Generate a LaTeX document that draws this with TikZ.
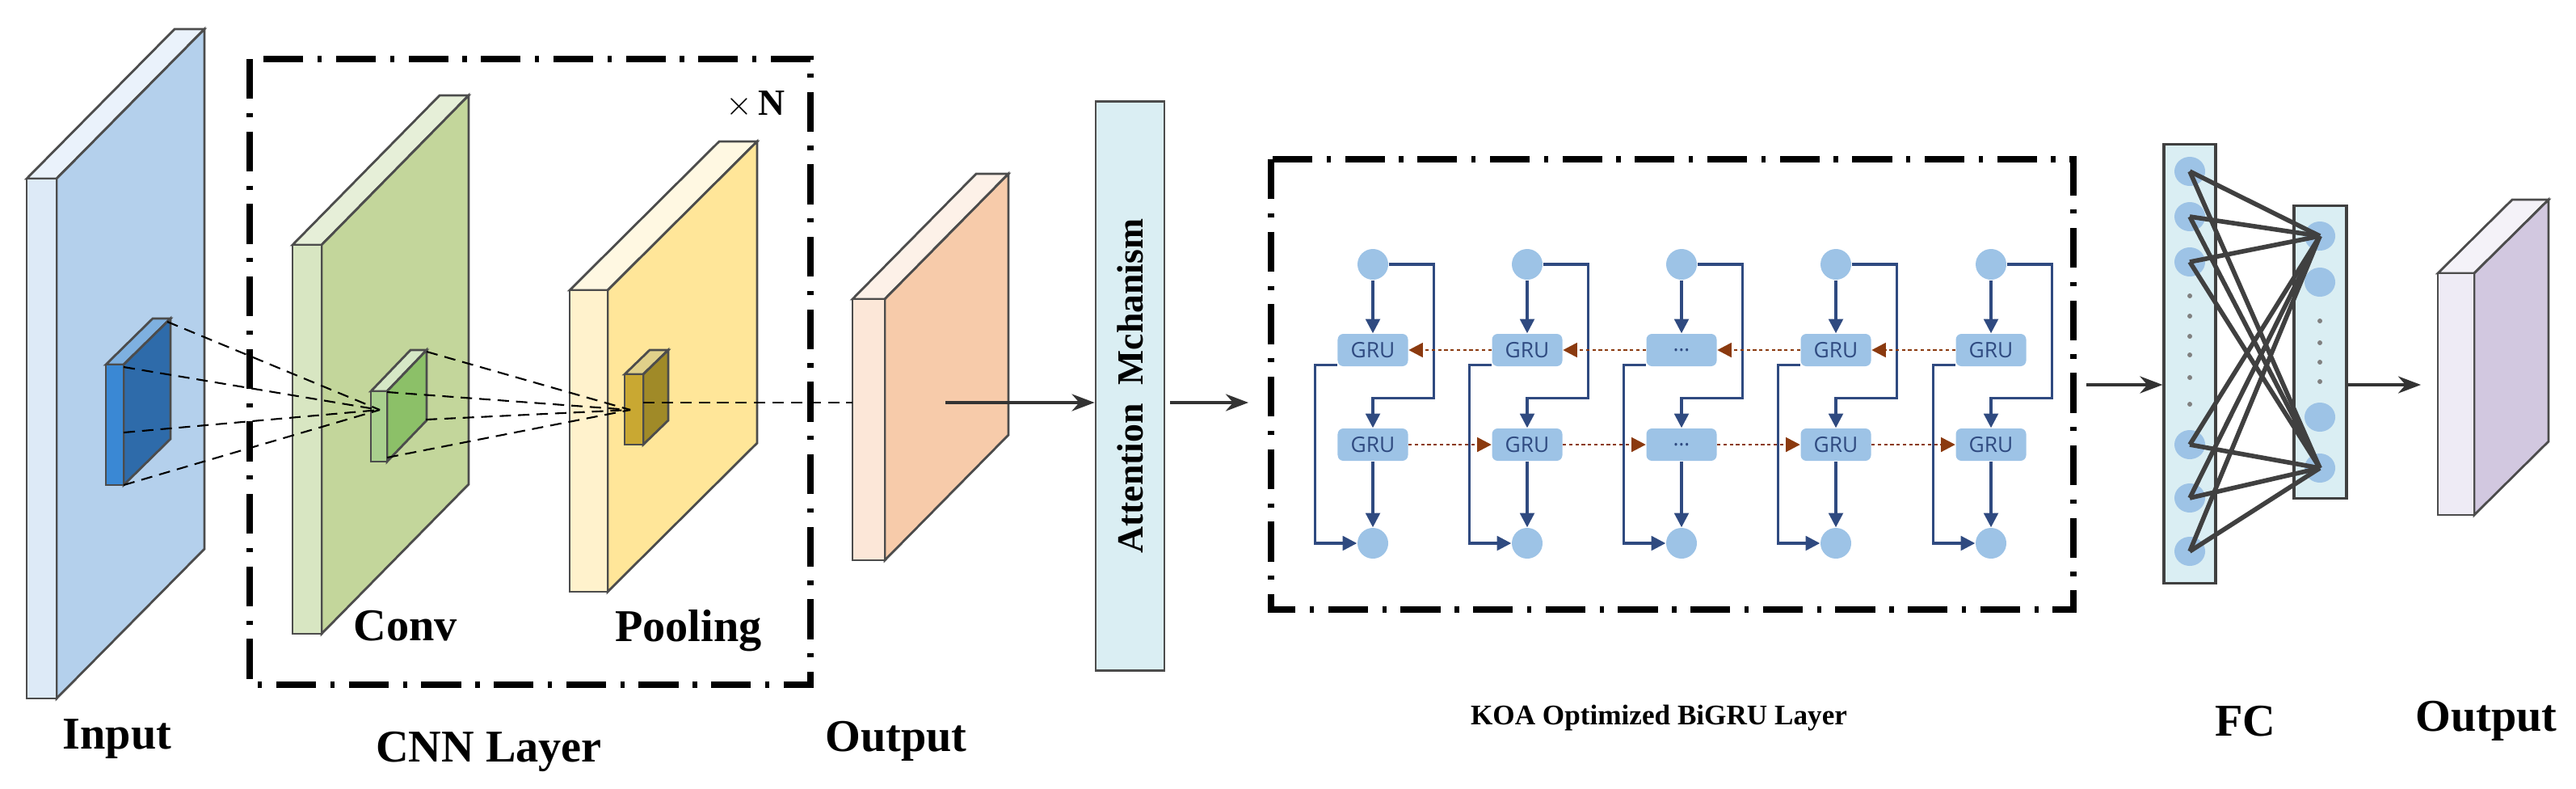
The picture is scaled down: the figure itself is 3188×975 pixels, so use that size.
\documentclass[tikz,border=0pt]{standalone}
\usepackage{fontspec}
\setmainfont{Liberation Serif}
\newfontfamily\gsans{Open Sans}
\usetikzlibrary{arrows.meta,calc,shapes.geometric}
\definecolor{navy}{HTML}{2F4A80}
\definecolor{cblue}{HTML}{9DC3E6}
\definecolor{brn}{HTML}{8B3A0F}
\definecolor{attc}{HTML}{DAEEF3}
\definecolor{fcc}{HTML}{DAEEF3}
\newcommand\slab[9]{%
 \definecolor{sF}{HTML}{#7}\definecolor{sS}{HTML}{#8}\definecolor{sT}{HTML}{#9}%
 \filldraw[slabline,fill=sT] (#1,#2) -- ++(#5,#6) -- ++({#3-#1},0) -- (#3,#2) -- cycle;
 \filldraw[slabline,fill=sS] (#3,#2) -- ++(#5,#6) -- ++(0,{#4-#2}) -- (#3,#4) -- cycle;
 \filldraw[slabline,fill=sF] (#1,#2) rectangle (#3,#4);}
\newcommand\gdots{\ldots}
\begin{document}
\begin{tikzpicture}[x=0.01cm,y=-0.01cm,
 slabline/.style={draw=black!70,line width=0.8pt},
 lbl/.style={font=\bfseries\fontsize{16}{18}\selectfont},
 dd/.style={dash pattern=on 4pt off 2.5pt,line width=0.6pt},
 dashdot/.style={line width=2.2pt,dash pattern=on 14pt off 5pt on 1.5pt off 5pt},
 gru/.style={rounded corners=2pt,fill=cblue,minimum width=0.87cm,minimum height=0.40cm,inner sep=0pt,font=\gsans\fontsize{7.5}{7.5}\selectfont,text=navy},
 circ/.style={circle,fill=cblue,minimum size=0.38cm,inner sep=0pt},
 nv/.style={draw=navy,line width=0.9pt},
 nva/.style={nv,-{Triangle[length=5pt,width=5pt]}},
 bra/.style={draw=brn,line width=0.8pt,dash pattern=on 1.2pt off 1pt,-{Triangle[length=5pt,width=5pt]}},
 arr/.style={draw=black!80,line width=0.9pt,-{Stealth[length=8pt,width=6pt]}},
 fcl/.style={draw=black!75,line width=1.6pt}]
\useasboundingbox (0,0) rectangle (3188,975);
% slabs
\slab{33}{221}{70}{864}{183}{-185}{DDEAF7}{B4D0EC}{EAF2FB}
\slab{362}{303}{398}{784}{182}{-185}{D8E6C2}{C3D69B}{E6EFD8}
\slab{705}{359}{752}{732}{185}{-184}{FFF2CC}{FFE699}{FFF8E2}
\slab{1055}{370}{1095}{693}{153}{-155}{FCE7D8}{F7CBAA}{FDF1E8}
\slab{131}{451}{153}{600}{58}{-57}{3A88D4}{2E6BAA}{7EB0E0}
\slab{459}{484}{479}{571}{49}{-51}{A9D08E}{8CC068}{D6E8C6}
\slab{773}{463}{796}{550}{31}{-30}{C9A832}{A08A28}{E0D08A}
\slab{3017}{338}{3062}{637}{92}{-91}{EEEBF5}{D2C8E0}{F4F2F8}
% dashed projections
\coordinate (g) at (470,507); \coordinate (o) at (780,507);
\foreach \p in {(207,398),(153,454),(153,535),(153,600)} \draw[dd] \p -- (g);
\foreach \p in {(528,435),(479,485),(527,519),(479,566)} \draw[dd] \p -- (o);
\draw[dd] (796,498) -- (1055,498);
% CNN box
\draw[dashdot] (309,73) rectangle (1003,847);
\node[font=\bfseries\fontsize{13}{14}\selectfont] (xn) at (935,129) {$\times$\,N};
\node[lbl] (conv) at (502,774) {Conv};
\node[lbl] (pool) at (852,780) {Pooling};
\node[lbl] (in) at (145,914) {Input};
\node[lbl] (cnn) at (605,930) {CNN Layer};
\node[lbl] (out1) at (1109,917) {Output};
% attention
\node[draw=black!70,line width=0.8pt,fill=attc,minimum width=0.85cm,minimum height=7.03cm,inner sep=0pt] (att) at (1398.5,477.5) {};
\node[rotate=90,font=\bfseries\fontsize{13}{14}\selectfont] (attt) at (att.center) {Attention\ \ Mchanism};
\coordinate (o1c) at (1170,498);
\draw[arr] (o1c) -- (o1c -| att.west);
\coordinate (a2) at (1545,498);
\draw[arr] ($(o1c -| att.east)+(6,0)$) -- (a2);
% GRU box
\draw[dashdot] (1573,197) rectangle (2566,754);
\node[font=\bfseries\fontsize{10}{12}\selectfont] (koa) at (2053,888) {KOA Optimized BiGRU Layer};
\foreach \i/\c/\t in {1/1699/GRU,2/1890/GRU,3/2081/\gdots,4/2272/GRU,5/2464/GRU}{
 \node[circ] (t\i) at (\c,327) {};
 \node[gru] (a\i) at (\c,433) {\t};
 \node[gru] (b\i) at (\c,550) {\t};
 \node[circ] (d\i) at (\c,672) {};
 \draw[nva] (t\i) -- (a\i);
 \draw[nva] (t\i.east) -- ++(56,0) |- ($(b\i.north)+(0,-37)$) -- (b\i);
 \draw[nva] (b\i) -- (d\i);
 \draw[nva] ($(a\i.south west)+(0,-2)$) -- ++(-27,0) |- (d\i.west);
}
\foreach \i/\j in {1/2,2/3,3/4,4/5}{
 \draw[bra] (a\j.west) -- (a\i.east);
 \draw[bra] (b\i.east) -- (b\j.west);
}
% FC
\coordinate (fcin) at (2582,476);
\node[draw=black!75,line width=0.9pt,fill=fcc,minimum width=0.64cm,minimum height=5.42cm,inner sep=0pt] (fc1) at (2710,450) {};
\node[draw=black!75,line width=0.9pt,fill=fcc,minimum width=0.65cm,minimum height=3.61cm,inner sep=0pt] (fc2) at (2871.5,435.5) {};
\draw[arr] (fcin) -- (fcin -| fc1.west);
\foreach \k/\y in {1/212,2/268,3/324,4/550,5/616,6/682} \node[ellipse,fill=cblue,minimum width=0.38cm,minimum height=0.36cm,inner sep=0pt] (p\k) at (2710,\y) {};
\foreach \k/\y in {1/292,2/349,3/516,4/579} \node[ellipse,fill=cblue,minimum width=0.38cm,minimum height=0.36cm,inner sep=0pt] (q\k) at (2871,\y) {};
\foreach \y in {366,391,416,439,467,500} \fill[gray] (2710,\y) circle (3);
\foreach \y in {397,424,448,472} \fill[gray] (2871,\y) circle (3);
\foreach \k in {1,...,6} {\draw[fcl] (p\k.center) -- (q1.center); \draw[fcl] (p\k.center) -- (q4.center);}
\coordinate (fco) at (2996,476);
\draw[arr] (fcin -| fc2.east) -- (fco);
\node[lbl] (fcl) at (2779,892) {FC};
\node[lbl] (out2) at (3077,892) {Output};
\end{tikzpicture}
\end{document}
